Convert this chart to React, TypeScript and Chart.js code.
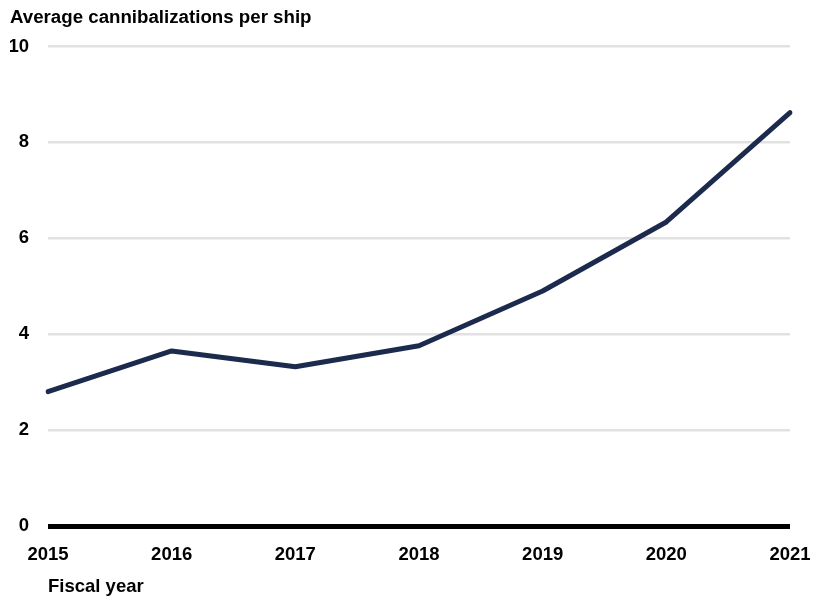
import React, { useEffect, useRef } from "react";
import { Chart, registerables } from "chart.js";

Chart.register(...registerables);

const years = ["2015", "2016", "2017", "2018", "2019", "2020", "2021"];
const avgCannibalizations = [2.8, 3.65, 3.32, 3.76, 4.9, 6.34, 8.62];
const yTicks = [0, 2, 4, 6, 8, 10];
const chartTitle = "Average cannibalizations per ship";
const xAxisTitle = "Fiscal year";

const FONT = "Arial, 'Liberation Sans', sans-serif";

export default function App() {
  const ref = useRef<HTMLCanvasElement | null>(null);

  useEffect(() => {
    if (!ref.current) return;
    const chart = new Chart(ref.current, {
      type: "line",
      data: {
        labels: years,
        datasets: [
          {
            data: avgCannibalizations,
            borderColor: "#1b2a4d",
            borderWidth: 5,
            pointRadius: 0,
            pointHoverRadius: 0,
            tension: 0,
            fill: false,
            borderCapStyle: "round",
            borderJoinStyle: "round",
          },
        ],
      },
      options: {
        animation: false,
        responsive: false,
        maintainAspectRatio: false,
        layout: { padding: { left: 10, right: 25, top: 0, bottom: 0 } },
        plugins: {
          legend: { display: false },
          tooltip: { enabled: false },
          title: {
            display: true,
            text: chartTitle,
            align: "start",
            color: "#000",
            font: { family: FONT, size: 18.7, weight: "bold" },
            padding: { top: 7, bottom: 17 },
          },
        },
        scales: {
          x: {
            type: "category",
            offset: false,
            grid: { display: false, drawTicks: false },
            border: { display: false },
            ticks: {
              color: "#000",
              font: { family: FONT, size: 18.5, weight: "bold" },
              padding: 18,
              maxRotation: 0,
              autoSkip: false,
            },
            title: {
              display: true,
              text: xAxisTitle,
              align: "start",
              color: "#000",
              font: { family: FONT, size: 18.5, weight: "bold" },
              padding: { top: 0, bottom: -1 },
            },
            afterFit: (scale: any) => {
              scale.height = 71;
              scale.paddingRight = 0;
              scale.paddingLeft = 0;
            },
          },
          y: {
            min: 0,
            max: 10,
            afterBuildTicks: (scale: any) => {
              scale.ticks = yTicks.map((v) => ({ value: v }));
            },
            grid: {
              drawTicks: false,
              color: (ctx: any) => (ctx.tick && ctx.tick.value === 0 ? "#000000" : "#e1e1e1"),
              lineWidth: (ctx: any) => (ctx.tick && ctx.tick.value === 0 ? 5 : 2.5),
            },
            border: { display: false },
            ticks: {
              color: "#000",
              font: { family: FONT, size: 18.5, weight: "bold" },
              padding: 19,
            },
            afterFit: (scale: any) => {
              scale.width = 38;
            },
          },
        },
      },
    });
    return () => chart.destroy();
  }, []);

  return (
    <div style={{ position: "absolute", left: 0, top: 0, width: 815, height: 597, background: "#fff" }}>
      <canvas ref={ref} width={815} height={597} style={{ width: 815, height: 597 }} />
    </div>
  );
}
